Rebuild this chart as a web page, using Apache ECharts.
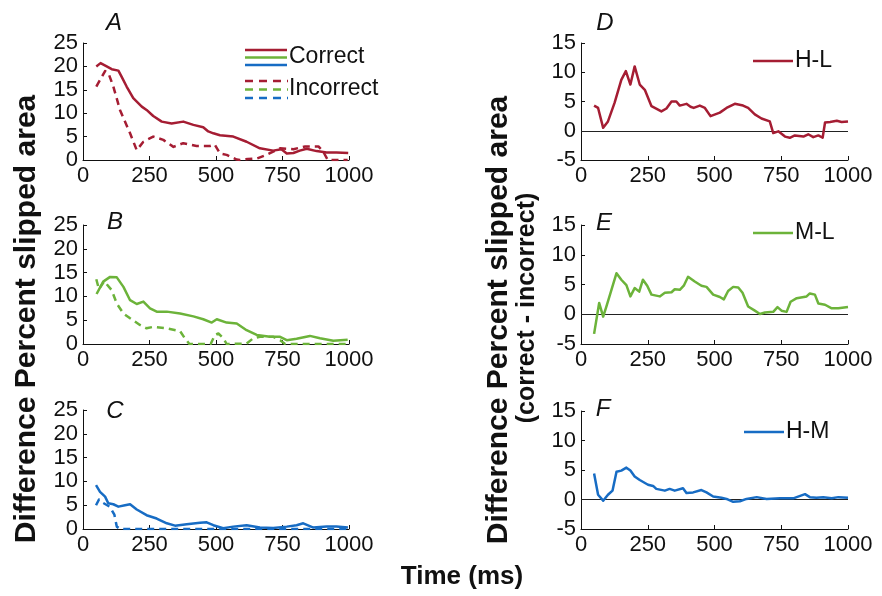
<!DOCTYPE html>
<html>
<head>
<meta charset="utf-8">
<script src="https://cdn.jsdelivr.net/npm/echarts@6/dist/echarts.min.js"></script>
<style>html,body{margin:0;padding:0;background:#fff}#c{width:882px;height:596px}</style>
</head>
<body>
<div id="c"></div>
<script>
// ---------- data ----------
var xTicks = [0, 250, 500, 750, 1000];
var leftYTicks = [0, 5, 10, 15, 20, 25];
var rightYTicks = [-5, 0, 5, 10, 15];

var A_correct_t = [50,66,89,108,133,145,164,189,221,239,264,296,333,377,415,452,471,490,515,565,615,665,715,746,766,791,815,841,878,916,953,997];
var A_correct_v = [20,20.7,20,19.4,19.1,17.8,15.7,13.2,11.4,10.7,9.4,8.2,7.8,8.2,7.5,7.0,6.1,5.7,5.3,5.0,3.9,2.5,2.0,2.3,1.4,1.5,2.0,2.4,1.9,1.6,1.6,1.5];
var A_incorrect_t = [50,83,96,114,139,177,202,208,227,264,302,340,377,427,477,495,515,540,578,590,620,653,690,741,791,835,885,903,920,950,995];
var A_incorrect_v = [15.7,19.0,18.5,15.7,10.7,5.7,2.1,1.8,3.9,5.0,4.3,2.8,3.6,3.0,3.0,3.3,1.4,1.1,0.1,0,0.2,0.3,1.1,2.5,2.3,2.9,2.9,1.8,0,0,0];

var B_correct_t = [51,76,102,127,152,177,202,227,252,277,315,365,415,452,484,503,540,578,615,653,703,741,766,803,853,891,941,995];
var B_correct_v = [10.5,13.1,14.1,14.0,12.0,9.2,8.4,8.9,7.5,6.8,6.8,6.4,5.8,5.2,4.5,5.2,4.5,4.3,2.9,1.9,1.5,1.5,0.8,1.1,1.7,1.2,0.7,0.9];
var B_incorrect_t = [50,60,80,90,108,127,152,177,214,239,264,315,365,383,400,480,496,509,528,540,615,640,665,716,741,760,1000];
var B_incorrect_v = [13.6,11.5,13.2,12.5,11.3,8.5,6.4,5.4,4.0,3.3,3.6,3.3,2.7,1.2,0,0,1.9,2.2,1.2,0,0.1,1.2,1.5,1.5,0.8,0,0];

var C_correct_t = [49,64,83,95,114,133,158,177,202,239,277,315,346,390,440,465,490,527,565,615,665,715,766,803,828,866,916,953,996];
var C_correct_v = [9.2,7.8,6.8,5.4,5.2,4.7,5.0,5.2,4.1,2.9,2.2,1.2,0.7,1.0,1.3,1.4,0.8,0.15,0.5,0.8,0.3,0.2,0.5,0.8,1.2,0.3,0.5,0.5,0.3];
var C_incorrect_t = [49,60,75,100,118,127,140,1000];
var C_incorrect_v = [5.0,6.2,5.5,4.7,3.0,0.5,0,0];

var D_t = [49,64,83,101,126,151,168,185,201,220,239,264,301,320,339,357,370,395,410,422,445,464,485,520,545,576,607,626,651,676,707,720,739,764,782,801,833,851,870,889,905,914,933,958,976,1000];
var D_v = [4.3,3.9,0.5,1.6,4.8,8.7,10.2,7.9,11.0,7.9,7.0,4.2,3.3,3.8,5.0,5.0,4.3,4.6,4.1,3.9,4.3,3.9,2.5,3.1,3.9,4.6,4.3,3.9,2.8,2.1,1.6,-0.4,-0.1,-1.0,-1.2,-0.8,-1.0,-0.6,-1.1,-0.8,-1.2,1.4,1.5,1.7,1.5,1.6];
var E_t = [49,68,83,95,114,133,151,170,185,201,218,232,248,264,295,314,339,351,370,385,401,426,451,470,495,520,535,551,570,589,605,626,651,670,689,720,736,751,770,785,808,845,857,876,889,914,939,964,1000];
var E_v = [-3.3,1.9,-0.4,1.3,4.1,6.9,5.8,4.9,3.0,4.4,3.8,5.8,4.8,3.3,3.0,3.6,3.7,4.2,4.1,4.8,6.3,5.5,4.8,4.6,3.3,2.9,2.5,3.9,4.6,4.5,3.6,1.3,0.6,0.05,0.3,0.4,1.2,0.6,0.4,2.1,2.7,3.0,3.5,3.3,1.8,1.6,1.0,1.0,1.2];
var F_t = [49,64,83,101,118,133,151,170,185,201,220,251,270,282,314,332,351,382,395,420,451,470,495,526,545,570,595,620,658,695,745,795,826,839,857,882,907,939,964,1000];
var F_v = [4.4,0.8,-0.2,0.8,1.5,4.7,4.9,5.4,4.9,3.9,3.3,2.5,2.3,1.8,1.5,1.8,1.5,1.9,1.1,1.2,1.6,1.2,0.5,0.3,0.1,-0.4,-0.3,0.1,0.4,0.1,0.2,0.2,0.7,0.9,0.4,0.3,0.4,0.2,0.4,0.3];

var panelLetters = ['A','B','C','D','E','F'];
var diffNames = ['H-L','M-L','H-M'];
var legendCorrect = 'Correct';
var legendIncorrect = 'Incorrect';
var xTitle = 'Time (ms)';
var leftTitle = 'Difference Percent slipped area';
var rightTitle1 = 'Difference Percent slipped area';
var rightTitle2 = '(correct - incorrect)';

// ---------- style ----------
var RED = '#A51D33', GREEN = '#6CB33A', BLUE = '#176CC4';
var FONT = '"Liberation Sans", Arial, sans-serif';
var INK = '#111';

function zip(t, v) { return t.map(function (x, i) { return [x, v[i]]; }); }

var grids = [
  {left: 83, top: 43, width: 266, height: 117},
  {left: 83, top: 225, width: 266, height: 119},
  {left: 83, top: 410, width: 266, height: 119},
  {left: 581, top: 43, width: 267, height: 117},
  {left: 581, top: 225, width: 267, height: 119},
  {left: 581, top: 411, width: 267, height: 118}
];

function plain(v) { return String(v); }

var xAxes = [], yAxes = [];
grids.forEach(function (g, i) {
  xAxes.push({
    type: 'value', gridIndex: i, min: xTicks[0], max: xTicks[xTicks.length - 1], interval: xTicks[1] - xTicks[0],
    axisLine: {show: true, onZero: false, lineStyle: {color: INK, width: 1}},
    axisTick: {show: true, inside: true, length: 4, lineStyle: {color: INK}},
    axisLabel: {show: true, fontFamily: FONT, fontSize: 22, color: INK, margin: 5, formatter: plain},
    splitLine: {show: false}
  });
  var yt = i < 3 ? leftYTicks : rightYTicks;
  yAxes.push({
    type: 'value', gridIndex: i, min: yt[0], max: yt[yt.length - 1], interval: yt[1] - yt[0],
    axisLine: {show: true, onZero: false, lineStyle: {color: INK, width: 1}},
    axisTick: {show: true, inside: true, length: 4, lineStyle: {color: INK}},
    axisLabel: {show: true, fontFamily: FONT, fontSize: 22, color: INK, margin: 5, formatter: plain},
    splitLine: {show: false}
  });
});

function line(i, data, color, dashed, zero) {
  var s = {
    type: 'line', xAxisIndex: i, yAxisIndex: i, data: data, showSymbol: false, symbol: 'none',
    lineStyle: {color: color, width: 2.5, type: dashed ? [7, 5] : 'solid', cap: 'butt', join: 'round'},
    silent: true, z: 3
  };
  if (zero) {
    s.markLine = {silent: true, symbol: 'none', label: {show: false},
      lineStyle: {color: '#222', width: 1, type: 'solid'}, data: [{yAxis: 0}], z: 2};
  }
  return s;
}

var series = [
  line(0, zip(A_correct_t, A_correct_v), RED, false),
  line(0, zip(A_incorrect_t, A_incorrect_v), RED, true),
  line(1, zip(B_correct_t, B_correct_v), GREEN, false),
  line(1, zip(B_incorrect_t, B_incorrect_v), GREEN, true),
  line(2, zip(C_correct_t, C_correct_v), BLUE, false),
  line(2, zip(C_incorrect_t, C_incorrect_v), BLUE, true),
  line(3, zip(D_t, D_v), RED, false, true),
  line(4, zip(E_t, E_v), GREEN, false, true),
  line(5, zip(F_t, F_v), BLUE, false, true)
];

var graphic = [];
function txt(x, y, text, opts) {
  var st = {text: text, x: 0, y: 0, fill: INK, fontFamily: FONT, fontSize: opts.size || 22,
    fontWeight: opts.weight || 'normal', fontStyle: opts.style || 'normal',
    align: opts.align || 'center', verticalAlign: 'middle'};
  graphic.push({type: 'text', x: x, y: y, rotation: opts.rot || 0, style: st, silent: true});
}
function seg(x1, y1, x2, y2, color, dashed) {
  graphic.push({type: 'line', shape: {x1: x1, y1: y1, x2: x2, y2: y2}, silent: true,
    style: {stroke: color, lineWidth: 2.5, lineDash: dashed ? [8, 6] : null}});
}
// panel letters
var letterPos = [[114, 23], [115, 222], [115, 411], [605, 23], [604, 223], [603, 409]];
panelLetters.forEach(function (l, i) { txt(letterPos[i][0], letterPos[i][1], l, {size: 24, style: 'italic'}); });
// legend A
[RED, GREEN, BLUE].forEach(function (c, k) { seg(245, 50 + k * 7.5, 287, 50 + k * 7.5, c, false); });
[RED, GREEN, BLUE].forEach(function (c, k) { seg(245, 81 + k * 8.5, 288, 81 + k * 8.5, c, true); });
txt(289, 57, legendCorrect, {size: 23, align: 'left'});
txt(289, 89, legendIncorrect, {size: 23, align: 'left'});
// legends D,E,F
seg(753, 61, 793, 61, RED, false); txt(795, 61, diffNames[0], {size: 23, align: 'left'});
seg(753, 233, 793, 233, GREEN, false); txt(795, 233, diffNames[1], {size: 23, align: 'left'});
seg(744, 432, 784, 432, BLUE, false); txt(786, 432, diffNames[2], {size: 23, align: 'left'});
// axis titles
txt(462, 577, xTitle, {size: 26, weight: 'bold'});
txt(27, 319, leftTitle, {size: 30, weight: 'bold', rot: Math.PI / 2});
txt(499, 320, rightTitle1, {size: 30, weight: 'bold', rot: Math.PI / 2});
txt(527, 308, rightTitle2, {size: 25, weight: 'bold', rot: Math.PI / 2});

var chart = echarts.init(document.getElementById('c'), null, {renderer: 'canvas'});
chart.setOption({
  animation: false,
  backgroundColor: '#fff',
  grid: grids,
  xAxis: xAxes,
  yAxis: yAxes,
  series: series,
  graphic: graphic
});
</script>
</body>
</html>
